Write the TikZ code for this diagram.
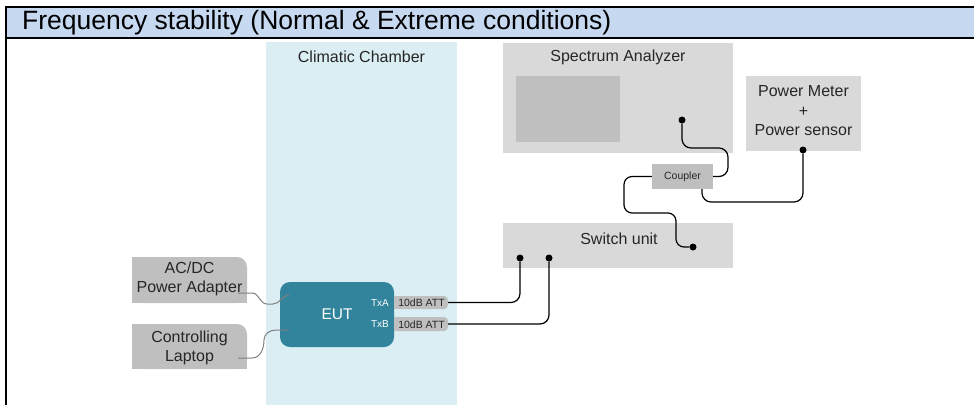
\documentclass[tikz,border=0pt]{standalone}
\usepackage{fontspec}
\setmainfont{Liberation Sans}
\usepackage{tikz}
\usetikzlibrary{calc}

\definecolor{titleblue}{HTML}{C6D9F1}
\definecolor{chamber}{HTML}{DAEEF3}
\definecolor{lightgrey}{HTML}{D9D9D9}
\definecolor{midgrey}{HTML}{BFBFBF}
\definecolor{eutteal}{HTML}{31849B}
\definecolor{cablegrey}{HTML}{808080}

\begin{document}
\begin{tikzpicture}[x=1pt,y=-1pt]
	\useasboundingbox (0,0) rectangle (974,405);
	% title bar and frame
	\fill[titleblue] (7,7) rectangle (980,38);
	\draw[line width=2pt] (980,7) -- (6,7) -- (6,405);
	\draw[line width=2pt] (6,38) -- (980,38);
	\node[anchor=west, inner sep=0pt, font=\fontsize{26.5}{30}\selectfont] (T) at (22,23)
		{Frequency stability (Normal \& Extreme conditions)};

	\begin{scope}[every node/.style = {rectangle, inner sep=0pt},
			txt/.style = {font=\fontsize{16}{19.5}\selectfont, text=black!85, align=center},
			small/.style = {font=\fontsize{10.5}{12}\selectfont, text=black!85},
			port/.style = {circle, fill=black, minimum size=7pt}]
		% boxes
		\node[fill=chamber, minimum width=191, minimum height=363] (CC) at (361.5,223.5) {};
		\node[fill=lightgrey, minimum width=230, minimum height=110] (SA) at (618,98) {};
		\node[fill=midgrey, minimum width=104, minimum height=66] (SC) at (568,109) {};
		\node[fill=lightgrey, minimum width=115, minimum height=75] (PM) at (803.5,113.5) {};
		\node[fill=lightgrey, minimum width=230, minimum height=45] (SW) at (618,245.5) {};
		\node[fill=midgrey, minimum width=61, minimum height=25, small] (CP) at (682.5,176.5) {Coupler};
		\node[fill=eutteal, rounded corners=10pt, minimum width=114, minimum height=65] (EUT) at (337,314.5) {};
		\node[fill=midgrey, rounded corners=4pt, minimum width=54, minimum height=13] (A1) at (421,302.5) {};
		\node[fill=midgrey, rounded corners=4pt, minimum width=54, minimum height=14] (A2) at (421,324) {};
		\node[fill=midgrey, rounded corners=10pt, minimum width=115, minimum height=46] (AC) at (189.5,280) {};
		\node[fill=midgrey, rounded corners=10pt, minimum width=115, minimum height=45] (LT) at (189.5,346.5) {};
		% square off the corners that are not rounded
		\fill[midgrey] (A1.south west) rectangle (A1.north);
		\fill[midgrey] (A2.south west) rectangle (A2.north);
		\fill[midgrey] (AC.south west) rectangle ($(AC.north east)+(-12,0)$);
		\fill[midgrey] (AC.south west) rectangle (AC.east);
		\fill[midgrey] (LT.south west) rectangle ($(LT.north east)+(-12,0)$);
		\fill[midgrey] (LT.south west) rectangle (LT.east);

		% texts
		\node[txt] (CCl) at (361.5,57) {Climatic Chamber};
		\node[txt] (SAl) at (618,57) {Spectrum Analyzer};
		\node[txt] (PMl) at (803.5,111) {Power Meter\\+\\Power sensor};
		\node[txt] (SWl) at (619,239) {Switch unit};
		\node[txt, text=white, font=\fontsize{15.5}{18}\selectfont] (EUTl) at (337,314) {EUT};
		\node[small, text=white, font=\fontsize{10}{12}\selectfont] (TA) at (380,303) {TxA};
		\node[small, text=white, font=\fontsize{10}{12}\selectfont] (TB) at (380,324) {TxB};
		\node[small] (A1l) at (421.5,303) {10dB ATT};
		\node[small] (A2l) at (421.5,324.5) {10dB ATT};
		\node[txt] (ACl) at (189.5,279) {AC/DC\\Power Adapter};
		\node[txt] (LTl) at (189.5,348) {Controlling\\Laptop};

		% ports
		\node[port] (P1) at (520,258) {};
		\node[port] (P2) at (549,258) {};
		\node[port] (P3) at (693,247) {};
		\node[port] (P4) at (682,120) {};
		\node[port] (P5) at (803,150) {};
	\end{scope}

	\coordinate (ACp) at (238,293);
	\coordinate (LTp) at (238,358);
	\coordinate (E1) at (289,295);
	\coordinate (E2) at (289,330);
	\coordinate (CPb) at (702,189);

	% power and control cables
	\begin{scope}[cablegrey, line width=1pt]
		\draw (ACp) -- (252,293) to[out=0,in=180] (267,304) -- (273,304) to[out=0,in=180] (E1);
		\draw (LTp) -- (252,358) to[out=0,in=270] (264,340) to[out=90,in=180] (276,330) -- (E2);
	\end{scope}

	% rf wiring
	\begin{scope}[line width=1.2pt, rounded corners=9pt]
		\draw (A1.east) -| (P1);
		\draw (A2.east) -| (P2);
		\draw (P4) |- (728,148) |- (CP.east);
		\draw[rounded corners=8pt] (CP.west) -| (624,213) -| (676,247) -- (P3);
		\draw (CPb) |- (803,202) -- (P5);
	\end{scope}
\end{tikzpicture}
\end{document}
